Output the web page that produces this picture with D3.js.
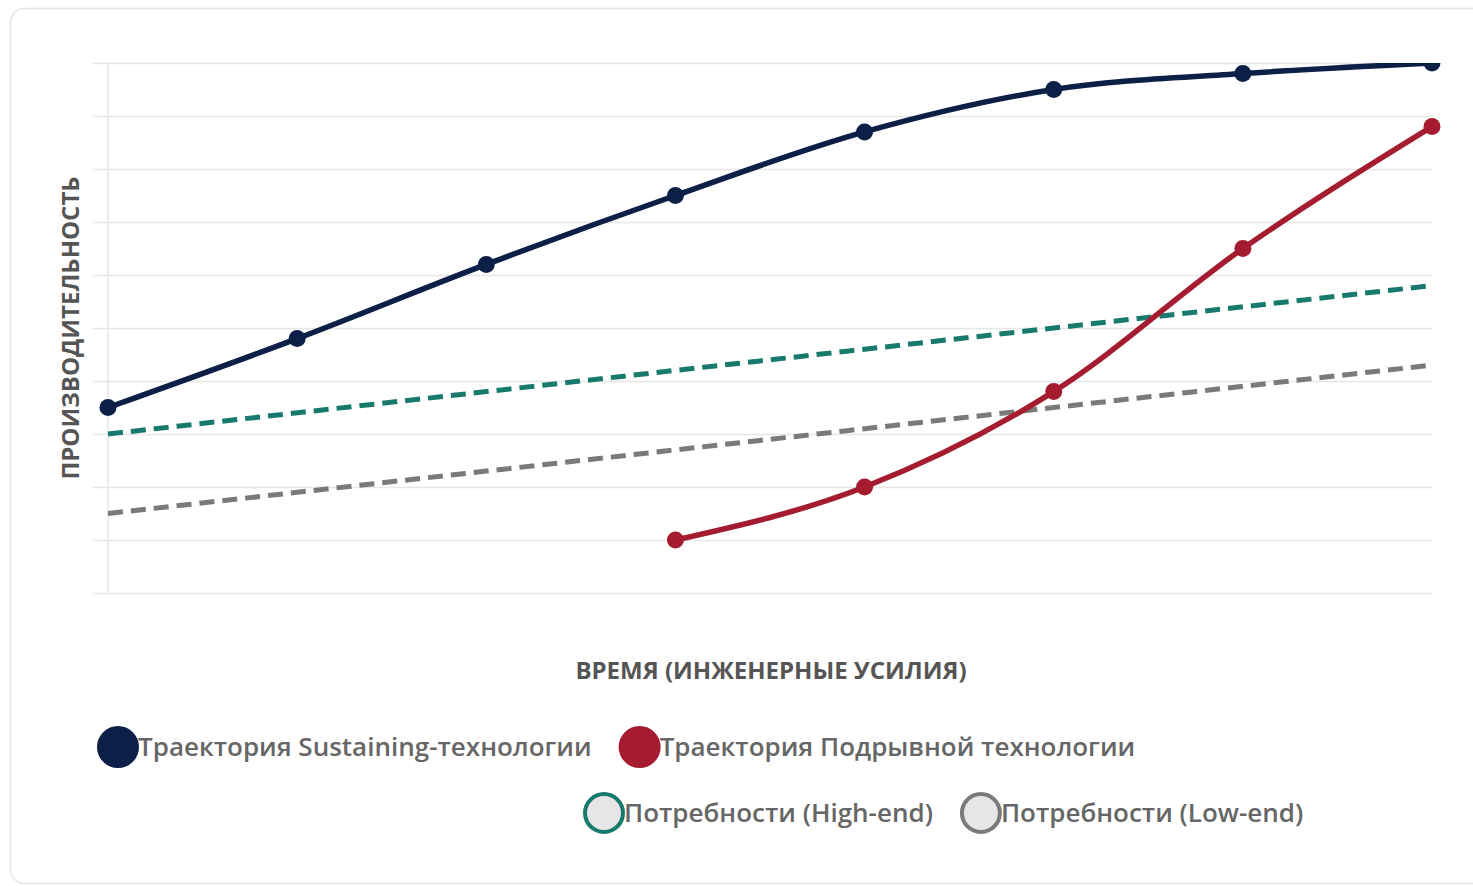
<!DOCTYPE html>
<html>
<head>
<meta charset="utf-8">
<script src="https://cdn.jsdelivr.net/npm/d3@7"></script>
<style>
  html, body { margin: 0; padding: 0; background: #fff; }
  #chart { width: 1473px; height: 886px; }
  text { font-family: "Open Sans", "Noto Sans", sans-serif; }
</style>
</head>
<body>
<div id="chart"></div>
<script>
// Innovation chart: sustaining vs disruptive trajectories

const steps = [0, 1, 2, 3, 4, 5, 6, 7];
const sustaining = [35, 48, 62, 75, 87, 95, 98, 100];
const disruptive = [null, null, null, 10, 20, 38, 65, 88];
const highEnd = [30, 34, 38, 42, 46, 50, 54, 58];
const lowEnd = [15, 19, 23, 27, 31, 35, 39, 43];
const yTicks = [0, 10, 20, 30, 40, 50, 60, 70, 80, 90, 100];

const seriesNames = [
    "Траектория Sustaining-технологии",
    "Траектория Подрывной технологии",
    "Потребности (High-end)",
    "Потребности (Low-end)"
];
const yTitle = "ПРОИЗВОДИТЕЛЬНОСТЬ";
const xTitle = "ВРЕМЯ (ИНЖЕНЕРНЫЕ УСИЛИЯ)";

const colors = {
    navy: "#0c1f47",
    red: "#a51c30",
    teal: "#187a6d",
    gray: "#7a7a7a"
};

const W = 1473, H = 886;
const svg = d3.select("#chart").append("svg")
    .attr("width", W)
    .attr("height", H);

// card
svg.append("rect")
    .attr("x", 10.5).attr("y", 8.5)
    .attr("width", W + 20).attr("height", 875)
    .attr("rx", 14)
    .attr("fill", "#fff")
    .attr("stroke", "#e4e4ea")
    .attr("stroke-width", 1.5);

const plot = { left: 108, right: 1432, top: 63, bottom: 593 };

const x = d3.scaleLinear()
    .domain(d3.extent(steps))
    .range([plot.left, plot.right]);

const y = d3.scaleLinear()
    .domain([0, 100])
    .range([plot.bottom, plot.top]);

// grid
const grid = svg.append("g")
    .attr("transform", `translate(${plot.left},0)`)
    .call(d3.axisLeft(y).tickValues(yTicks).tickSize(-(plot.right - plot.left)).tickSizeOuter(0).tickFormat(""));
grid.select(".domain").remove();
grid.selectAll(".tick line")
    .attr("x1", -15)
    .attr("stroke", "#e6e6e6")
    .attr("stroke-width", 1.5);

svg.append("line")
    .attr("x1", plot.left).attr("x2", plot.left)
    .attr("y1", plot.top).attr("y2", plot.bottom)
    .attr("stroke", "#e6e6e6")
    .attr("stroke-width", 1.5);

// clip at the top of the plot area
svg.append("defs").append("clipPath")
    .attr("id", "plot-clip")
    .append("rect")
    .attr("x", 0).attr("y", plot.top)
    .attr("width", W).attr("height", H - plot.top);

const g = svg.append("g").attr("clip-path", "url(#plot-clip)");

const line = d3.line()
    .defined(d => d != null)
    .x((d, i) => x(steps[i]))
    .y(d => y(d))
    .curve(d3.curveMonotoneX);

// needs (dashed)
[[highEnd, colors.teal], [lowEnd, colors.gray]].forEach(([vals, c]) => {
    g.append("path")
        .datum(vals)
        .attr("fill", "none")
        .attr("stroke", c)
        .attr("stroke-width", 5)
        .attr("stroke-dasharray", "15 8")
        .attr("d", line);
});

// trajectories
[[sustaining, colors.navy], [disruptive, colors.red]].forEach(([vals, c]) => {
    g.append("path")
        .datum(vals)
        .attr("fill", "none")
        .attr("stroke", c)
        .attr("stroke-width", 5.5)
        .attr("d", line);
    g.selectAll(null)
        .data(vals.map((v, i) => ({ v, i })).filter(d => d.v != null))
        .enter().append("circle")
        .attr("cx", d => x(steps[d.i]))
        .attr("cy", d => y(d.v))
        .attr("r", 8.5)
        .attr("fill", c);
});

// axis titles
svg.append("text")
    .attr("transform", `translate(79,${(plot.top + plot.bottom) / 2}) rotate(-90)`)
    .attr("text-anchor", "middle")
    .attr("font-size", 24)
    .attr("font-weight", 700)
    .attr("fill", "#555")
    .text(yTitle);

svg.append("text")
    .attr("x", 771).attr("y", 679)
    .attr("text-anchor", "middle")
    .attr("font-size", 24)
    .attr("font-weight", 700)
    .attr("fill", "#555")
    .text(xTitle);

// legend
const legendItems = [
    { name: seriesNames[0], fill: colors.navy, stroke: colors.navy, row: 0 },
    { name: seriesNames[1], fill: colors.red, stroke: colors.red, row: 0 },
    { name: seriesNames[2], fill: "#e6e6e6", stroke: colors.teal, row: 1 },
    { name: seriesNames[3], fill: "#e6e6e6", stroke: colors.gray, row: 1 }
];
const rows = [{ x: 97, y: 747 }, { x: 583, y: 813 }];
const r = 19;

rows.forEach((row, ri) => {
    let cx = row.x;
    legendItems.filter(d => d.row === ri).forEach(item => {
        const lg = svg.append("g");
        lg.append("circle")
            .attr("cx", cx + r + 2).attr("cy", row.y)
            .attr("r", r)
            .attr("fill", item.fill)
            .attr("stroke", item.stroke)
            .attr("stroke-width", 4);
        const t = lg.append("text")
            .attr("x", cx + 2 * r + 3)
            .attr("y", row.y)
            .attr("dy", "0.35em")
            .attr("font-size", 26)
            .attr("font-weight", 600)
            .attr("fill", "#666")
            .text(item.name);
        cx += 2 * r + 3 + t.node().getComputedTextLength() + 27;
    });
});
</script>
</body>
</html>
